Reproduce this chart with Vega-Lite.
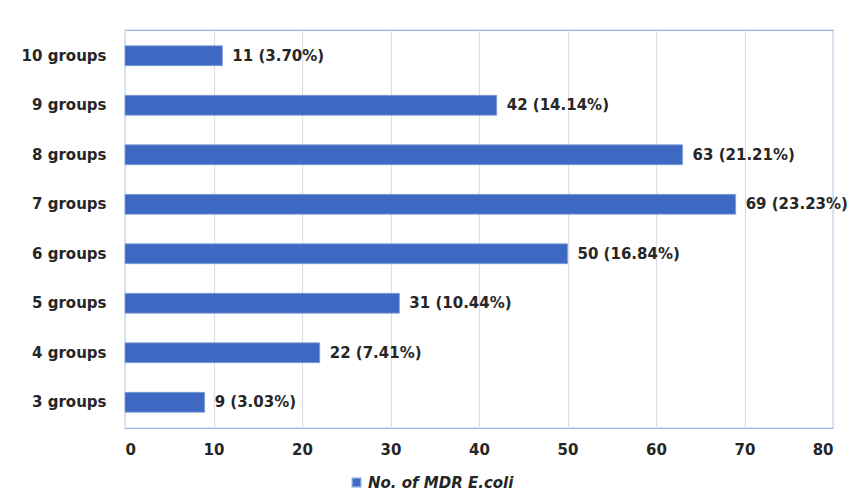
{
  "$schema": "https://vega.github.io/schema/vega-lite/v6.json",
  "width": 708,
  "height": 398,
  "autosize": {"type": "none"},
  "padding": {"left": 125, "top": 30, "right": 16, "bottom": 69},
  "background": "white",
  "config": {
    "font": "DejaVu Sans",
    "view": {"stroke": "#8DB3E2", "strokeWidth": 1.2}
  },
  "data": {
    "values": [
      {"group": "10 groups", "count": 11, "label": "11 (3.70%)", "series": "No. of MDR E.coli"},
      {"group": "9 groups", "count": 42, "label": "42 (14.14%)", "series": "No. of MDR E.coli"},
      {"group": "8 groups", "count": 63, "label": "63 (21.21%)", "series": "No. of MDR E.coli"},
      {"group": "7 groups", "count": 69, "label": "69 (23.23%)", "series": "No. of MDR E.coli"},
      {"group": "6 groups", "count": 50, "label": "50 (16.84%)", "series": "No. of MDR E.coli"},
      {"group": "5 groups", "count": 31, "label": "31 (10.44%)", "series": "No. of MDR E.coli"},
      {"group": "4 groups", "count": 22, "label": "22 (7.41%)", "series": "No. of MDR E.coli"},
      {"group": "3 groups", "count": 9, "label": "9 (3.03%)", "series": "No. of MDR E.coli"}
    ]
  },
  "encoding": {
    "y": {
      "field": "group",
      "type": "nominal",
      "sort": null,
      "scale": {"paddingInner": 0.6, "paddingOuter": 0.32},
      "axis": {
        "title": null,
        "domain": false,
        "ticks": false,
        "grid": false,
        "labelPadding": 19,
        "labelFontSize": 15,
        "labelFontWeight": "bold",
        "labelColor": "#262626",
        "labelFont": "DejaVu Sans"
      }
    },
    "x": {
      "field": "count",
      "type": "quantitative",
      "scale": {"domain": [0, 80], "nice": false},
      "axis": {
        "title": null,
        "values": [0, 10, 20, 30, 40, 50, 60, 70, 80],
        "domain": false,
        "ticks": false,
        "grid": true,
        "gridColor": "#DDDDE6",
        "gridWidth": 1.2,
        "labelPadding": 14,
        "labelFontSize": 15,
        "labelFontWeight": "bold",
        "labelColor": "#262626",
        "labelFont": "DejaVu Sans"
      }
    }
  },
  "layer": [
    {
      "mark": {"type": "bar", "stroke": "#7F9FD8", "strokeWidth": 0.8},
      "encoding": {
        "color": {
          "field": "series",
          "type": "nominal",
          "scale": {"range": ["#3D69C2"]},
          "legend": {
            "title": null,
            "orient": "none",
            "legendX": 224,
            "legendY": 445,
            "symbolType": "square",
            "symbolSize": 70,
            "labelFontSize": 15,
            "labelFontWeight": "bold",
            "labelFontStyle": "italic",
            "labelColor": "#262626",
            "labelFont": "DejaVu Sans"
          }
        }
      }
    },
    {
      "mark": {
        "type": "text",
        "align": "left",
        "baseline": "middle",
        "dx": 10,
        "fontSize": 15,
        "fontWeight": "bold",
        "color": "#262626",
        "font": "DejaVu Sans"
      },
      "encoding": {"text": {"field": "label"}}
    }
  ]
}
